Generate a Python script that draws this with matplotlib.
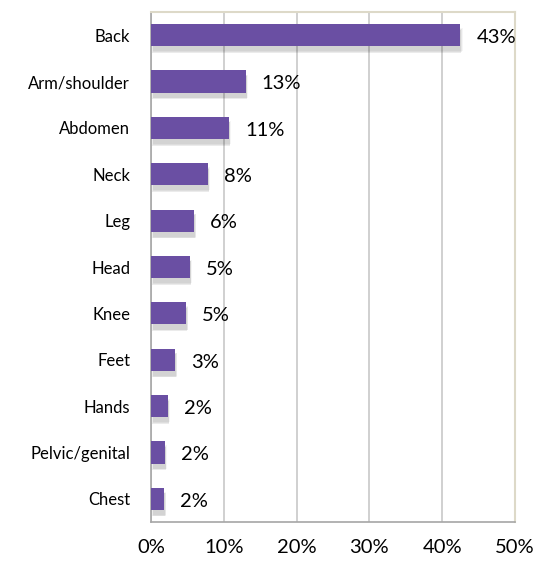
from matplotlib import pyplot as plt
from matplotlib import ticker
import numpy as np

categories = ['Back', 'Arm/shoulder', 'Abdomen', 'Neck', 'Leg', 'Head', 'Knee',
              'Feet', 'Hands', 'Pelvic/genital', 'Chest']
values = [42.5, 13.0, 10.7, 7.8, 5.9, 5.3, 4.8, 3.3, 2.3, 1.9, 1.8]
labels = ['43%', '13%', '11%', '8%', '6%', '5%', '5%', '3%', '2%', '2%', '2%']

plt.rcParams['font.family'] = ['Lato', 'DejaVu Sans']

fig = plt.figure(figsize=(5.39, 5.62), dpi=100)
ax = fig.add_axes([151 / 539, 40 / 562, 364 / 539, 510 / 562])

y = np.arange(len(categories))

# soft shadow behind bars
for k, a in enumerate([0.04, 0.06, 0.08]):
    off = 0.3 - k * 0.08
    ax.barh(y + 0.1 + k * 0.015, values, height=0.5, left=off,
            color='black', alpha=a, zorder=2, linewidth=0)

ax.barh(y, values, height=0.48, color='#6a4fa3', zorder=3)

for yi, v, lab in zip(y, values, labels):
    ax.text(v + 2.2, yi + 0.05, lab, va='center', ha='left', fontsize=14.5, zorder=4)

ax.set_xlim(0, 50)
ax.set_ylim(len(categories) - 0.5, -0.5)
ax.set_yticks(y, categories)
ax.xaxis.set_major_locator(ticker.MultipleLocator(10))
ax.xaxis.set_major_formatter(ticker.FuncFormatter(lambda v, p: f'{v:.0f}%'))

ax.grid(axis='x', color='#c8c8c8', linewidth=1.2, zorder=0)
ax.set_axisbelow(True)
ax.tick_params(axis='both', length=0)
ax.tick_params(axis='y', labelsize=12, pad=15)
ax.tick_params(axis='x', labelsize=14.5, pad=12)

for s in ['left', 'bottom']:
    ax.spines[s].set_color('#a6a6a6')
    ax.spines[s].set_linewidth(1.2)
for s in ['top', 'right']:
    ax.spines[s].set_color('#ddd9c8')
    ax.spines[s].set_linewidth(1.5)

plt.savefig('out.png', dpi=100)
plt.close()
